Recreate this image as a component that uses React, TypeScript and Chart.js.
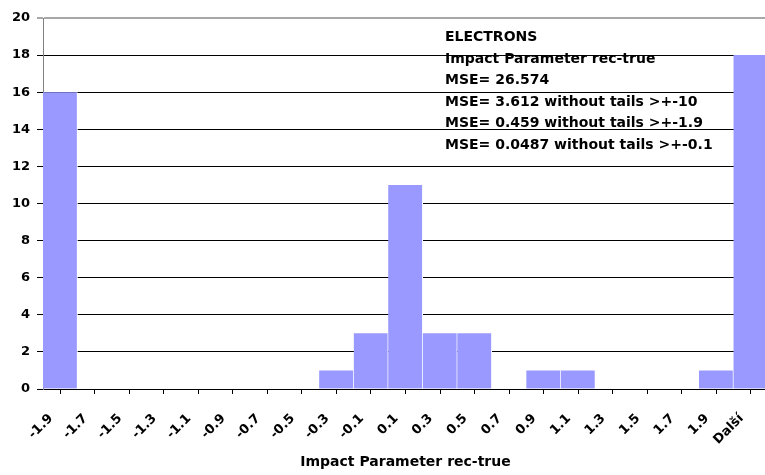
import React, { useEffect, useRef } from "react";
import { Chart, registerables } from "chart.js";

Chart.register(...registerables);

// ---- data ----
const categories: string[] = [
  "-1.9", "-1.7", "-1.5", "-1.3", "-1.1", "-0.9", "-0.7", "-0.5", "-0.3", "-0.1",
  "0.1", "0.3", "0.5", "0.7", "0.9", "1.1", "1.3", "1.5", "1.7", "1.9", "Další",
];
const counts: number[] = [16, 0, 0, 0, 0, 0, 0, 0, 1, 3, 11, 3, 3, 0, 1, 1, 0, 0, 0, 1, 18];
const yTicks: number[] = [0, 2, 4, 6, 8, 10, 12, 14, 16, 18, 20];
const xTitle = "Impact Parameter rec-true";
const noteLines: string[] = [
  "ELECTRONS",
  "Impact Parameter rec-true",
  "MSE= 26.574",
  "MSE= 3.612 without tails >+-10",
  "MSE= 0.459 without tails >+-1.9",
  "MSE= 0.0487 without tails >+-0.1",
];

const FAMILY = "'DejaVu Sans', 'Liberation Sans', Arial, sans-serif";

const notePlugin = {
  id: "noteText",
  afterDraw(chart: any) {
    const ctx = chart.ctx as CanvasRenderingContext2D;
    ctx.save();
    ctx.font = `bold 14px ${FAMILY}`;
    ctx.fillStyle = "#000000";
    ctx.textAlign = "left";
    ctx.textBaseline = "alphabetic";
    noteLines.forEach((t, i) => {
      ctx.fillText(t, 445, 41 + i * 21.6);
    });
    ctx.restore();
  },
};

export default function App() {
  const canvasRef = useRef<HTMLCanvasElement | null>(null);

  useEffect(() => {
    if (!canvasRef.current) return;
    const chart = new Chart(canvasRef.current, {
      type: "bar",
      data: {
        datasets: [
          {
            data: counts.map((c, i) => ({ x: i + 0.5, y: c })),
            backgroundColor: "#9999ff",
            borderColor: "#ffffff",
            borderWidth: { left: 0, top: 0, right: 1, bottom: 0 },
            borderSkipped: false,
            barPercentage: 1,
            categoryPercentage: 1,
          },
        ],
      },
      options: {
        responsive: false,
        animation: false,
        devicePixelRatio: 1,
        layout: { padding: { top: 18, left: 0, right: 0, bottom: 0 } },
        plugins: {
          legend: { display: false },
          tooltip: { enabled: false },
        },
        scales: {
          x: {
            type: "linear",
            min: 0,
            max: categories.length,
            offset: false,
            afterBuildTicks: (s: any) => {
              s.ticks = categories.map((_, i) => ({ value: i }));
            },
            afterFit: (s: any) => {
              s.height = 86;
            },
            ticks: {
              autoSkip: false,
              minRotation: 45,
              maxRotation: 45,
              labelOffset: 8,
              padding: 17,
              color: "#000000",
              font: { family: FAMILY, size: 13, weight: "bold" },
              callback: (v: any) => categories[v as number] ?? "",
            },
            grid: { drawOnChartArea: false, tickLength: 5, color: "#000000" },
            border: { color: "#000000", width: 1 },
            title: {
              display: true,
              text: xTitle,
              color: "#000000",
              font: { family: FAMILY, size: 14, weight: "bold" },
              padding: { top: 0, bottom: 4 },
            },
          },
          y: {
            min: 0,
            max: 20,
            afterBuildTicks: (s: any) => {
              s.ticks = yTicks.map((v) => ({ value: v }));
            },
            afterFit: (s: any) => {
              s.width = 43;
            },
            ticks: {
              color: "#000000",
              padding: 7,
              font: { family: FAMILY, size: 13, weight: "bold" },
            },
            grid: {
              color: (c: any) => (c.tick && c.tick.value === 20 ? "#a8a8a8" : "#000000"),
              lineWidth: (c: any) => (c.tick && c.tick.value === 20 ? 2 : 1),
              tickLength: 6,
            },
            border: { color: "#808080", width: 1 },
          },
        },
      } as any,
      plugins: [notePlugin],
    });
    return () => chart.destroy();
  }, []);

  return (
    <div
      style={{
        position: "fixed",
        left: 0,
        top: 0,
        width: 765,
        height: 475,
        overflow: "hidden",
        background: "#ffffff",
      }}
    >
      <canvas
        ref={canvasRef}
        width={768}
        height={475}
        style={{ display: "block", width: 768, height: 475 }}
      />
    </div>
  );
}
